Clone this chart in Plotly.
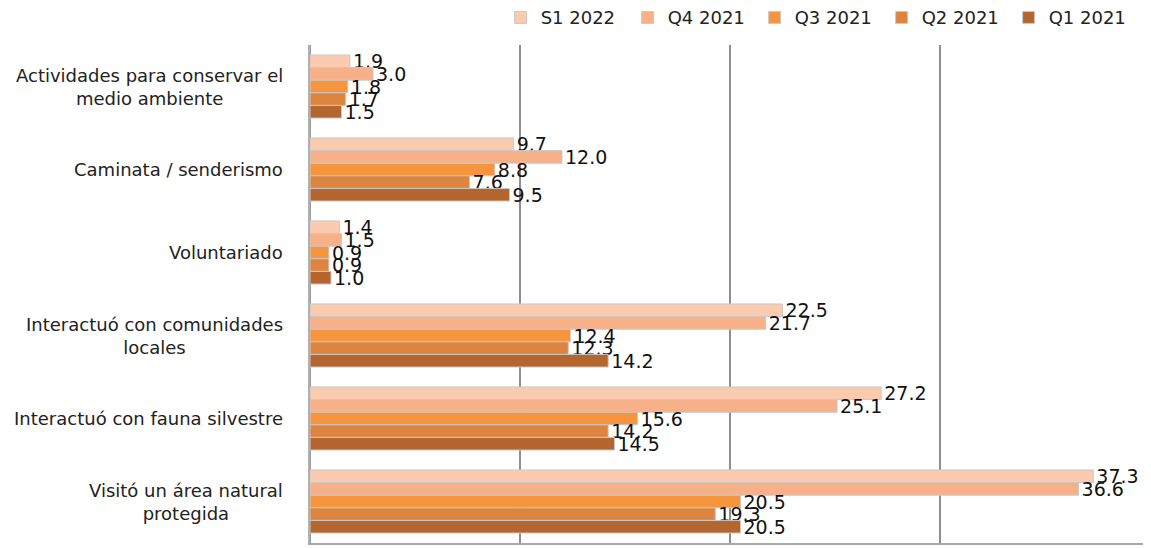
import plotly.graph_objects as go

categories = ["Actividades para conservar el<br>medio ambiente", "Caminata / senderismo", "Voluntariado",
              "Interactuó con comunidades<br>locales", "Interactuó con fauna silvestre",
              "Visitó un área natural<br>protegida"]
series_names = ["S1 2022", "Q4 2021", "Q3 2021", "Q2 2021", "Q1 2021"]
s1_2022 = [1.9, 9.7, 1.4, 22.5, 27.2, 37.3]
q4_2021 = [3.0, 12.0, 1.5, 21.7, 25.1, 36.6]
q3_2021 = [1.8, 8.8, 0.9, 12.4, 15.6, 20.5]
q2_2021 = [1.7, 7.6, 0.9, 12.3, 14.2, 19.3]
q1_2021 = [1.5, 9.5, 1.0, 14.2, 14.5, 20.5]
values = [s1_2022, q4_2021, q3_2021, q2_2021, q1_2021]
colors = ["#FBCBB0", "#F8B088", "#F7953F", "#DD843E", "#B5652E"]

FONT = "DejaVu Sans, Noto Sans, sans-serif"

fig = go.Figure()
for name, vals, col in zip(series_names, values, colors):
    fig.add_trace(go.Bar(
        y=categories, x=vals, name=name, orientation="h",
        marker=dict(color=col, line=dict(color="#C9C9C9", width=1)),
        text=[f"{v:.1f}" for v in vals], textposition="outside",
        constraintext="none",
        textfont=dict(size=19, color="#111111", family=FONT), cliponaxis=False,
    ))

for cat in categories:
    fig.add_annotation(x=0, xref="paper", y=cat, yref="y", text=cat,
                       xanchor="right", xshift=-25, align="center", showarrow=False,
                       font=dict(size=18, color="#222222", family=FONT))

fig.update_layout(
    width=1143, height=540,
    barmode="group", bargap=0.24, bargroupgap=0,
    plot_bgcolor="white", paper_bgcolor="white",
    font=dict(family=FONT, size=16, color="#222222"),
    margin=dict(l=302, r=1, t=37, b=5, autoexpand=False),
    legend=dict(orientation="h", xref="container", yref="container",
                x=0.431, y=0.982, yanchor="middle", xanchor="left",
                font=dict(size=18, family=FONT), itemwidth=30, traceorder="normal",
                entrywidth=82, entrywidthmode="pixels"),
    xaxis=dict(range=[0, 40], dtick=10, showticklabels=False, showgrid=True,
               gridcolor="#8E8E8E", gridwidth=2, zeroline=True, zerolinecolor="#9A9A9A",
               zerolinewidth=2, showline=True, linecolor="#A8A8A8", linewidth=2,
               automargin=False),
    yaxis=dict(autorange="reversed", showgrid=False, ticks="", showticklabels=False,
               showline=True, linecolor="#B0B0B0", linewidth=2, automargin=False),
)
fig.write_html("out.html")
